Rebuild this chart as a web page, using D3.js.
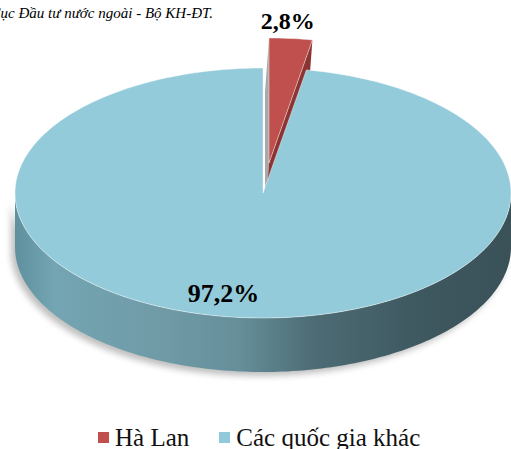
<!DOCTYPE html>
<html lang="vi">
<head>
<meta charset="utf-8">
<script src="https://cdn.jsdelivr.net/npm/d3@7"></script>
<style>
  html, body { margin: 0; background: #fff; overflow: hidden; font-family: "Liberation Serif", "DejaVu Serif", serif; }
  #pie { position: relative; width: 511px; height: 449px; }
  svg { display: block; font-family: "Liberation Serif", "DejaVu Serif", serif; }
  .legend { position: absolute; left: 98px; top: 423px; line-height: 30px; white-space: nowrap;
            font-family: "Liberation Serif", "DejaVu Serif", serif; font-size: 25px; color: #111; }
  .key { display: inline-block; margin-right: 30px; }
  .symbol { display: inline-block; width: 11px; height: 11px; margin-right: 6px; vertical-align: 3px; }
</style>
</head>
<body>
<div id="pie"></div>
<script>
// du lieu
const categories = ["Hà Lan", "Các quốc gia khác"];
const shares = [2.8, 97.2];
const shareLabels = ["2,8%", "97,2%"];
const topColors = ["#c0504d", "#93cbda"];
const legendColors = ["#c0504d", "#8fc9da"];
const sourceNote = "Nguồn: Cục Đầu tư nước ngoài - Bộ KH-ĐT.";

let width = 511;
let height = 449;
let cx = 263, cy = 193;      // tam mat tren
let rx = 248, ry = 125;      // ban kinh elip
let depth = 54;              // do day banh
let explode = [[6, -30], [0, 0]];
let serif = "'Liberation Serif', 'DejaVu Serif', serif";

let svg = d3.select("#pie")
    .append("svg")
    .attr("width", width)
    .attr("height", height);

// nhom hinh ve truoc, nhom chu sau
let shapes = svg.append("g").attr("class", "shapes");
let labels = svg.append("g").attr("class", "labels");

let pie = d3.pie().sort(null).value(d => d);
let arcs = pie(shares);

// diem tren vanh elip
function pt(a, f, off, dz) {
    return [cx + rx * f * Math.sin(a) + off[0], cy - ry * f * Math.cos(a) + off[1] + (dz || 0)];
}
function rim(a0, a1, off, dz) {
    let n = Math.max(2, Math.ceil((a1 - a0) / 0.02));
    return d3.range(n + 1).map(i => pt(a0 + (a1 - a0) * i / n, 1, off, dz));
}

// nhan phan tram
let mid0 = pt((arcs[0].startAngle + arcs[0].endAngle) / 2, 1, explode[0]);
labels.append("text")
    .attr("x", mid0[0] - 3)
    .attr("y", mid0[1] - 9)
    .attr("text-anchor", "middle")
    .style("font-family", serif)
    .style("font-weight", "bold")
    .style("font-size", "24px")
    .text(shareLabels[0]);
let mid1 = pt((arcs[1].startAngle + arcs[1].endAngle) / 2, 0.8, explode[1]);
labels.append("text")
    .attr("x", mid1[0] - 22)
    .attr("y", mid1[1] + 9)
    .attr("text-anchor", "middle")
    .style("font-family", serif)
    .style("font-weight", "bold")
    .style("font-size", "26px")
    .text(shareLabels[1]);

// nguon
labels.append("text")
    .attr("x", 213)
    .attr("y", 18)
    .attr("text-anchor", "end")
    .style("font-family", serif)
    .style("font-style", "italic")
    .style("font-size", "15px")
    .text(sourceNote);

// chu giai
let legend = d3.select("#pie").append("div").attr("class", "legend");
let keys = legend.selectAll(".key")
    .data(categories)
    .enter().append("span")
    .attr("class", "key");
keys.append("span")
    .attr("class", "symbol")
    .style("background-color", (d, i) => legendColors[i]);
keys.append("span")
    .text(d => d);

// ---- hinh banh 3D ----
let defs = svg.insert("defs", ":first-child");
let grad = defs.append("linearGradient")
    .attr("id", "sideGrad")
    .attr("gradientUnits", "userSpaceOnUse")
    .attr("x1", cx - rx).attr("x2", cx + rx)
    .attr("y1", 0).attr("y2", 0);
[[0, "#5f909d"], [0.08, "#74a5b2"], [0.3, "#6f9aa6"], [0.45, "#668f9a"],
 [0.6, "#4d6c75"], [0.8, "#3f5961"], [1, "#3a5158"]].forEach(s => {
    grad.append("stop").attr("offset", s[0]).attr("stop-color", s[1]);
});
defs.append("filter").attr("id", "blur")
    .attr("x", "-10%").attr("y", "-10%").attr("width", "120%").attr("height", "130%")
    .append("feGaussianBlur").attr("stdDeviation", 3);

let line = d3.line();

// bong do
let sideAll = rim(Math.PI / 2, 3 * Math.PI / 2, [0, 0], 0)
    .concat(rim(Math.PI / 2, 3 * Math.PI / 2, [0, 0], depth).reverse());
shapes.append("path")
    .attr("d", line(sideAll) + "Z")
    .attr("transform", "translate(-4,4)")
    .attr("fill", "#8a8a8a")
    .attr("opacity", 0.55)
    .attr("filter", "url(#blur)");

// mat cat cua lat banh tach ra (Ha Lan)
let skew = [-4, depth];
arcs.forEach((d, i) => {
    if (explode[i][0] === 0 && explode[i][1] === 0) return;
    let off = explode[i];
    let c = pt(0, 0, off);
    [[d.startAngle, "#a9a9ac"], [d.endAngle, "#8c3432"]].forEach(f => {
        let r = pt(f[0], 1, off);
        let poly = [c, r, [r[0] + skew[0], r[1] + skew[1]], [c[0] + skew[0], c[1] + skew[1]]];
        shapes.append("path").attr("d", line(poly) + "Z").attr("fill", f[1]);
    });
});

// ve tung lat: mat hong + mat tren
arcs.forEach((d, i) => {
    let off = explode[i];
    let a0 = Math.max(d.startAngle, Math.PI / 2);
    let a1 = Math.min(d.endAngle, 3 * Math.PI / 2);
    if (a1 > a0) {
        let side = rim(a0, a1, off, 0).concat(rim(a0, a1, off, depth).reverse());
        shapes.append("path")
            .attr("d", line(side) + "Z")
            .attr("fill", i === 1 ? "url(#sideGrad)" : "#8c3432");
    }
    let top = [pt(0, 0, off)].concat(rim(d.startAngle, d.endAngle, off, 0));
    shapes.append("path")
        .attr("d", line(top) + "Z")
        .attr("fill", topColors[i])
        .attr("stroke", "rgba(255,255,255,0.55)")
        .attr("stroke-width", 0.8);
});
</script>
</body>
</html>
